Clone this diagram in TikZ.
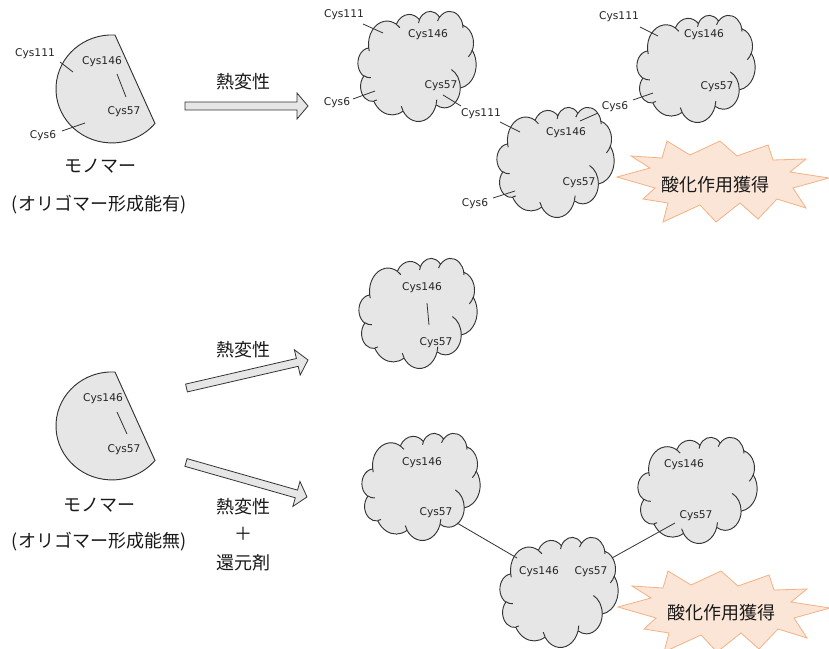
\documentclass[tikz,border=0pt]{standalone}
\usepackage{fontspec}
\setmainfont{Noto Sans CJK JP}
\newfontfamily\labfont{DejaVu Sans}
\definecolor{shapegray}{HTML}{E6E6E6}
\definecolor{edgegray}{HTML}{333333}
\definecolor{boomfill}{HTML}{FBE5D6}
\definecolor{boomline}{HTML}{F4B183}
\newdimen\cloudxu
\newdimen\cloudyu
\pgfmathdeclarefunction{vpar}{3}{\pgfmathparse{atan2((#2)*sin(#1),(#3)*cos(#1))}}
\newcommand\oarc[4]{arc[x radius=#3,y radius=#4,start angle={vpar(#1,#3,#4)},delta angle={mod(vpar((#1)+(#2),#3,#4)-vpar(#1,#3,#4)+720,360)}]}
\newcommand\ocloud[4]{%
  \pgfmathsetlength\cloudxu{#3*0.0075pt}%
  \pgfmathsetlength\cloudyu{-#4*0.0075pt}%
  \begin{scope}[shift={(#1,#2)},x=\cloudxu,y=\cloudyu]
    \draw[cloudbody] (9.028,33.264)
      \oarc{-190.487}{123.781}{15.632}{21.273}
      \oarc{-144.102}{89.945}{12.345}{16.822}
      \oarc{-145.808}{99.723}{10.104}{13.762}
      \oarc{-130.986}{117.242}{11.243}{15.266}
      \oarc{-78.709}{109.027}{12.345}{16.836}
      \oarc{-46.267}{130.269}{15.683}{21.343}
      \oarc{0.625}{114.033}{13.391}{18.211}
      \oarc{22.452}{115.173}{15.630}{21.331}
      \oarc{66.243}{75.711}{17.870}{24.405}
      \oarc{-274.942}{146.736}{10.093}{13.699}
      \oarc{-246.829}{152.519}{10.058}{13.762} -- cycle;
    \draw[cloudinner]
      (10.863,60.595) \oarc{86.742}{26.430}{10.058}{13.762}
      (16.037,80.785) \oarc{73.610}{11.447}{10.093}{13.699}
      (38.144,90.486) \oarc{137.624}{14.081}{15.630}{21.331}
      (66.729,80.442) \oarc{6.453}{15.998}{15.630}{21.331}
      (79.002,53.134) \oarc{-70.292}{70.917}{13.391}{18.211}
      (96.755,35.542) \oarc{30.318}{27.752}{12.345}{16.836}
      (88.713,12.560) \oarc{-13.744}{14.855}{11.243}{15.266}
      (67.310,9.148) \oarc{-149.181}{18.195}{11.243}{15.266}
      (51.252,10.926) \oarc{-163.494}{17.686}{10.104}{13.762}
      (32.407,12.019) \oarc{-66.707}{12.319}{15.632}{21.273}
      (9.553,36.549) \oarc{157.654}{11.857}{15.632}{21.273};
  \end{scope}}
\newcommand\blockarrow[4]{%
  \begin{scope}[shift={(#1,#2)},rotate=#3]
    \draw[barrowstyle] (0,-4) -- (#4-11,-4) -- (#4-11,-13) -- (#4,0) -- (#4-11,13) -- (#4-11,4) -- (0,4) -- cycle;
  \end{scope}}
\newcommand\boomshape{%
  \draw[boom] (617,177) -- (650,168) -- (631,156) -- (662,158) -- (667,141) -- (690,155)
    -- (720,141) -- (737,156) -- (768,145) -- (773,160) -- (806,159) -- (790,172)
    -- (829,178) -- (793,188) -- (806,208) -- (777,199) -- (758,219) -- (740,203)
    -- (716,222) -- (700,205) -- (663,222) -- (668,203) -- (643,199) -- (655,188) -- cycle;}
\tikzset{
  cloudbody/.style={fill=shapegray,draw=edgegray,line width=0.7pt,line join=round},
  cloudinner/.style={draw=edgegray,line width=0.7pt},
  monoshape/.style={fill=shapegray,draw=edgegray,line width=0.7pt},
  barrowstyle/.style={fill=shapegray,draw=edgegray,line width=0.6pt},
  boom/.style={fill=boomfill,draw=boomline,line width=0.6pt},
  lnk/.style={draw=edgegray,line width=0.6pt},
  lbl/.style={font=\labfont\fontsize{8}{9}\selectfont,inner sep=0pt,text=black!85},
  jp/.style={font=\fontsize{13.5}{16}\selectfont,inner sep=0pt,text=black!90}
}
\begin{document}
\begin{tikzpicture}[x=0.75pt,y=-0.75pt]
\useasboundingbox (0,0) rectangle (829,649);
% ---- monomers
\draw[monoshape] (115,35) arc[start angle=-86.9,end angle=-320.2,x radius=56,y radius=54] -- cycle;
\draw[monoshape] (115,372) arc[start angle=-86.9,end angle=-320.2,x radius=56,y radius=54] -- cycle;
% ---- block arrows
\blockarrow{185}{106}{0}{123}
\blockarrow{186.5}{388}{13}{124.7}
\blockarrow{186}{462.5}{-15.9}{125.8}
% ---- clouds
\ocloud{358}{11}{118}{110}
\ocloud{637}{15}{118}{107}
\ocloud{497}{107}{117}{110}
\ocloud{359}{258}{118}{110}
\ocloud{362}{433}{118}{107}
\ocloud{638}{437}{119}{106}
\ocloud{500}{537}{118}{110}
% ---- explosions
\boomshape
\begin{scope}[shift={(1,430)}]\boomshape\end{scope}
\node[jp,font=\fontsize{13.5}{16}\selectfont] (ox1) at (715,185) {酸化作用獲得};
\node[jp] (ox2) at (721,613) {酸化作用獲得};
% ---- texts
\node[jp] (mono1) at (100,166) {モノマー};
\node[jp] (olig1) at (99,205) {(オリゴマー形成能有)};
\node[jp] (mono2) at (99,505) {モノマー};
\node[jp] (olig2) at (99,542) {(オリゴマー形成能無)};
\node[jp] (heat1) at (243,82) {熱変性};
\node[jp] (heat2) at (243,350) {熱変性};
\node[jp] (heat3) at (243,507) {熱変性};
\node[jp] (plus) at (243,534) {＋};
\node[jp] (red) at (243,563) {還元剤};
% ---- labels
\node[lbl] (m1a) at (35,54) {Cys111};
\node[lbl] (m1b) at (102,62) {Cys146};
\node[lbl] (m1c) at (124,112) {Cys57};
\node[lbl] (m1d) at (43,136) {Cys6};
\node[lbl] (m2b) at (103,399) {Cys146};
\node[lbl] (m2c) at (124,450) {Cys57};
\node[lbl] (aa) at (344,15) {Cys111};
\node[lbl] (ab) at (428,35) {Cys146};
\node[lbl] (ac) at (441,86) {Cys57};
\node[lbl] (ad) at (337,103) {Cys6};
\node[lbl] (ba) at (619,17) {Cys111};
\node[lbl] (bb) at (704,35) {Cys146};
\node[lbl] (bc) at (717,87) {Cys57};
\node[lbl] (bd) at (615,107) {Cys6};
\node[lbl] (ca) at (481,114) {Cys111};
\node[lbl] (cb) at (566,133) {Cys146};
\node[lbl] (cc) at (579,183) {Cys57};
\node[lbl] (cd) at (475,204) {Cys6};
\node[lbl] (db) at (422,288) {Cys146};
\node[lbl] (dc) at (436,343) {Cys57};
\node[lbl] (eb) at (422,463) {Cys146};
\node[lbl] (ec) at (436,513) {Cys57};
\node[lbl] (fb) at (684,465) {Cys146};
\node[lbl] (fc) at (696,516) {Cys57};
\node[lbl] (gb) at (539,572) {Cys146};
\node[lbl] (gc) at (591,572) {Cys57};
% ---- line end points
\coordinate (q1a) at (60,62);   \coordinate (q1b) at (73,72);
\coordinate (q2a) at (117,74);  \coordinate (q2b) at (126,97);
\coordinate (q3a) at (62,131);  \coordinate (q3b) at (85,123);
\coordinate (q4a) at (117,412); \coordinate (q4b) at (127,434);
\coordinate (q5a) at (363,24);  \coordinate (q5b) at (383,33);
\coordinate (q6a) at (353,99);  \coordinate (q6b) at (375,91);
\coordinate (q7a) at (443,95);  \coordinate (q7b) at (461,106);
\coordinate (q8a) at (640,27);  \coordinate (q8b) at (658,36);
\coordinate (q9a) at (633,100); \coordinate (q9b) at (653,93);
\coordinate (q10a) at (580,121); \coordinate (q10b) at (598,113);
\coordinate (q11a) at (500,122); \coordinate (q11b) at (520,132);
\coordinate (q12a) at (493,198); \coordinate (q12b) at (515,191);
\coordinate (q13a) at (427,303); \coordinate (q13b) at (429,325);
\coordinate (q14a) at (457,523); \coordinate (q14b) at (517,558);
\coordinate (q15a) at (612,558); \coordinate (q15b) at (675,523);
\foreach \i in {1,...,15}{\draw[lnk] (q\i a) -- (q\i b);}
\end{tikzpicture}
\end{document}
